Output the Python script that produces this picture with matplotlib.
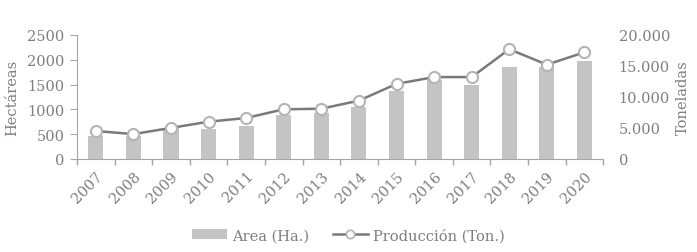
import matplotlib
matplotlib.use("Agg")
import matplotlib.pyplot as plt
from matplotlib.lines import Line2D
import numpy as np

years = ["2007", "2008", "2009", "2010", "2011", "2012", "2013", "2014",
         "2015", "2016", "2017", "2018", "2019", "2020"]
area_ha = [470, 460, 620, 600, 670, 880, 930, 1050, 1370, 1590, 1500, 1855, 1860, 1965]
produccion_ton = [4500, 4000, 5000, 6000, 6600, 8000, 8100, 9400, 12100, 13200, 13200, 17700, 15200, 17200]
left_ticks = [0, 500, 1000, 1500, 2000, 2500]
right_ticks = [0, 5000, 10000, 15000, 20000]
right_labels = ["0", "5.000", "10.000", "15.000", "20.000"]

TXT = "#7f7f7f"
AX = "#a6a6a6"
plt.rcParams['font.family'] = ['DejaVu Serif']
plt.rcParams['font.size'] = 10.5

fig = plt.figure(figsize=(6.97, 2.53), dpi=100)
ax = fig.add_axes([0.1105, 0.368, 0.755, 0.490])
x = np.arange(len(years))
bars = ax.bar(x, area_ha, width=0.4, color="#c4c4c4", label="Area (Ha.)", zorder=2)
ax.set_xlim(-0.5, len(years) - 0.5)
ax.set_ylim(0, 2500)
ax.set_yticks(left_ticks)
ax.set_xticks(x)
ax.set_xticklabels(years, rotation=45, ha="right", rotation_mode="anchor")
ax.set_xticks(np.arange(-0.5, len(years), 1), minor=True)
ax.tick_params(axis="x", which="major", length=0, pad=7, colors=TXT, labelsize=10.5)
ax.tick_params(axis="x", which="minor", length=4, color=AX, width=1)
ax.tick_params(axis="y", length=5, color=AX, colors=TXT, labelsize=10.5, pad=4)
for s in ["top", "right"]:
    ax.spines[s].set_visible(False)
for s in ["left", "bottom"]:
    ax.spines[s].set_color(AX)
ax.set_ylabel("Hectáreas", color=TXT, fontsize=10.5, labelpad=6)

ax2 = ax.twinx()
line, = ax2.plot(x, produccion_ton, color="#7a7a7a", lw=1.8, marker="o", ms=8,
                 mfc="white", mec="#b4b4b4", mew=1.5, label="Producción (Ton.)", zorder=3)
ax2.set_ylim(0, 20000)
ax2.set_yticks(right_ticks)
ax2.set_yticklabels(right_labels, ha="left")
ax2.tick_params(axis="y", length=0, pad=11, colors=TXT, labelsize=10.5)
for s in ["top", "right", "left", "bottom"]:
    ax2.spines[s].set_visible(False)
ax2.set_ylabel("Toneladas", color=TXT, fontsize=10.5, labelpad=4)

line_handle = Line2D([], [], color="#7a7a7a", lw=1.8, marker="o", ms=6,
                     mfc="white", mec="#b4b4b4", mew=1.2)
leg = fig.legend(handles=[bars, line_handle], labels=["Area (Ha.)", "Producción (Ton.)"],
                 loc="center", bbox_to_anchor=(0.5, 0.067), ncol=2,
                 frameon=False, fontsize=10.5, handlelength=2.4, handleheight=0.6,
                 handletextpad=0.35, columnspacing=1.6)
for t in leg.get_texts():
    t.set_color(TXT)

fig.savefig("out.png", dpi=100)
